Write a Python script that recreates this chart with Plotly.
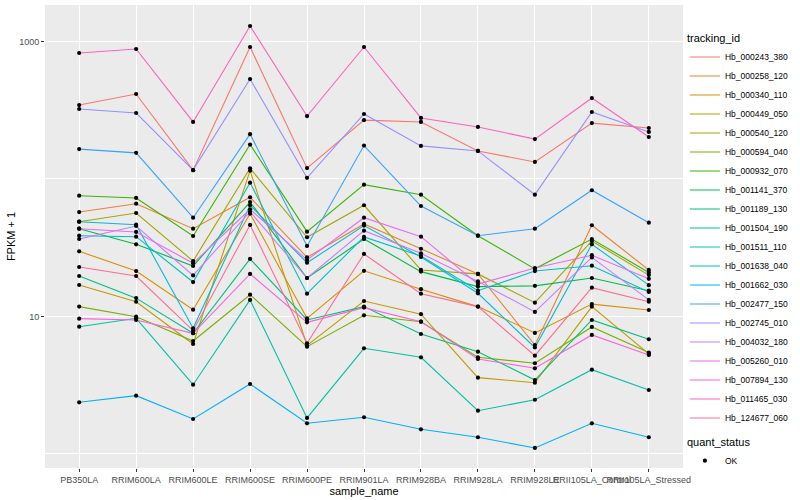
import plotly.graph_objects as go

samples = ["PB350LA", "RRIM600LA", "RRIM600LE", "RRIM600SE", "RRIM600PE",
           "RRIM901LA", "RRIM928BA", "RRIM928LA", "RRIM928LE",
           "RRII105LA_Control", "RRII105LA_Stressed"]

tracking_ids = ["Hb_000243_380", "Hb_000258_120", "Hb_000340_110", "Hb_000449_050",
                "Hb_000540_120", "Hb_000594_040", "Hb_000932_070", "Hb_001141_370",
                "Hb_001189_130", "Hb_001504_190", "Hb_001511_110", "Hb_001638_040",
                "Hb_001662_030", "Hb_002477_150", "Hb_002745_010", "Hb_004032_180",
                "Hb_005260_010", "Hb_007894_130", "Hb_011465_030", "Hb_124677_060"]

colors = ["#F8766D", "#EA8331", "#D89000", "#C09B00", "#A3A500", "#7CAE00", "#39B600",
          "#00BB4E", "#00BF7D", "#00C1A3", "#00BFC4", "#00BAE0", "#00B0F6", "#35A2FF",
          "#9590FF", "#C77CFF", "#E76BF3", "#FA62DB", "#FF62BC", "#FF6C91"]

# FPKM + 1 values per sample (order of `samples`)
hb_000243_380 = [345, 415, 116, 912, 120, 268, 260, 160, 133, 255, 235]
hb_000258_120 = [57.5, 66.1, 43.5, 73.6, 26.9, 47.1, 31.1, 20.4, 6.20, 46.1, 21.8]
hb_000340_110 = [29.8, 21.4, 11.2, 55.9, 9.70, 21.5, 15.8, 11.8, 7.59, 12.3, 11.15]
hb_000449_050 = [16.95, 12.8, 6.31, 115, 6.17, 12.96, 10.4, 3.59, 3.30, 11.8, 5.34]
hb_000540_120 = [48.9, 56.6, 25.3, 119.6, 37.7, 64.4, 21.8, 20.4, 12.6, 35.4, 20.0]
hb_000594_040 = [11.8, 9.97, 6.63, 14.4, 6.03, 10.2, 9.17, 5.05, 4.57, 8.39, 5.46]
hb_000932_070 = [75.6, 72.8, 38.5, 178, 41.4, 90.9, 76.9, 38.7, 22.2, 36.6, 20.9]
hb_001141_370 = [43.5, 33.5, 23.3, 68.0, 19.05, 36.6, 21.2, 16.5, 16.7, 19.05, 15.4]
hb_001189_130 = [19.7, 13.6, 7.55, 26.2, 9.43, 11.8, 7.46, 5.55, 3.45, 9.43, 6.83]
hb_001504_190 = [8.43, 9.70, 3.19, 13.2, 1.83, 5.87, 5.05, 2.065, 2.48, 4.10, 2.92]
hb_001511_110 = [38.7, 38.05, 17.8, 94.0, 14.65, 37.9, 27.5, 15.4, 21.4, 23.4, 15.1]
hb_001638_040 = [48.9, 46.5, 8.21, 64.4, 24.6, 45.8, 27.1, 14.75, 5.95, 33.5, 16.9]
hb_001662_030 = [2.377, 2.655, 1.797, 3.228, 1.672, 1.849, 1.512, 1.323, 1.106, 1.672, 1.323]
hb_002477_150 = [165, 155, 52.3, 212, 32.6, 175, 63.6, 38.7, 43.5, 82.8, 48.1]
hb_002745_010 = [323, 302, 116, 533, 102, 297, 174, 160, 76.9, 307, 220]
hb_004032_180 = [36.6, 45.5, 19.9, 57.8, 19.05, 42.1, 28.8, 18.0, 10.8, 26.9, 13.2]
hb_005260_010 = [43.5, 41.2, 24.4, 60.2, 25.8, 52.3, 38.05, 17.2, 22.5, 27.9, 18.8]
hb_007894_130 = [9.64, 9.43, 7.55, 20.4, 9.07, 11.6, 9.17, 4.91, 4.20, 7.34, 5.25]
hb_011465_030 = [825, 882, 260, 1296, 287, 912, 278, 239, 195, 388, 202]
hb_124677_060 = [22.9, 19.7, 7.88, 46.3, 6.39, 28.5, 14.65, 11.8, 5.19, 16.2, 12.8]

series = [hb_000243_380, hb_000258_120, hb_000340_110, hb_000449_050, hb_000540_120,
          hb_000594_040, hb_000932_070, hb_001141_370, hb_001189_130, hb_001504_190,
          hb_001511_110, hb_001638_040, hb_001662_030, hb_002477_150, hb_002745_010,
          hb_004032_180, hb_005260_010, hb_007894_130, hb_011465_030, hb_124677_060]

FONT = "Liberation Sans"

fig = go.Figure()
for tid, col, vals in zip(tracking_ids, colors, series):
    fig.add_trace(go.Scatter(x=samples, y=vals, mode="lines", name=tid,
                             line=dict(color=col, width=1.1), legend="legend"))

px_x, px_y = [], []
for vals in series:
    px_x.extend(samples)
    px_y.extend(vals)
fig.add_trace(go.Scatter(x=px_x, y=px_y, mode="markers", name="OK",
                         marker=dict(color="black", size=4.2), legend="legend2"))

fig.update_layout(
    width=800, height=500,
    margin=dict(l=45, r=117, t=5, b=32, autoexpand=False),
    paper_bgcolor="white", plot_bgcolor="#EBEBEB",
    font=dict(family=FONT, size=9, color="#000000"),
    xaxis=dict(type="category", categoryorder="array", categoryarray=samples,
               range=[-0.6, 10.6], showgrid=True, gridcolor="white", gridwidth=1.1,
               zeroline=False, showline=False, ticks="outside", ticklen=3,
               tickcolor="#333333", tickwidth=1, tickangle=0,
               tickfont=dict(family=FONT, size=9, color="#4D4D4D"),
               title=dict(text="sample_name", font=dict(family=FONT, size=11, color="black"), standoff=0),
               automargin=False),
    yaxis=dict(type="log", range=[-0.102, 3.2655], tickmode="array",
               tickvals=[10, 1000], ticktext=["10", "1000"],
               showgrid=True, gridcolor="white", gridwidth=1.1,
               minor=dict(tickmode="array", tickvals=[1, 100], showgrid=True,
                          gridcolor="white", gridwidth=0.55, ticks=""),
               zeroline=False, showline=False, ticks="outside", ticklen=3,
               tickcolor="#333333", tickwidth=1,
               tickfont=dict(family=FONT, size=9, color="#4D4D4D"),
               title=dict(text="FPKM + 1", font=dict(family=FONT, size=11, color="black"), standoff=1),
               automargin=False),
    legend=dict(title=dict(text="tracking_id", font=dict(family=FONT, size=11, color="black")),
                font=dict(family=FONT, size=8.5, color="black"),
                x=1.003, y=0.950, xanchor="left", yanchor="top",
                bgcolor="rgba(255,255,255,0)", itemwidth=30, tracegroupgap=0),
    legend2=dict(title=dict(text="quant_status", font=dict(family=FONT, size=11, color="black")),
                 font=dict(family=FONT, size=8.5, color="black"),
                 x=1.003, y=0.078, xanchor="left", yanchor="top",
                 bgcolor="rgba(255,255,255,0)", itemwidth=30),
    showlegend=True,
)

fig.write_html("out.html", config={"displayModeBar": False},
               post_script="document.body.style.margin='0';document.body.style.overflow='hidden';")
